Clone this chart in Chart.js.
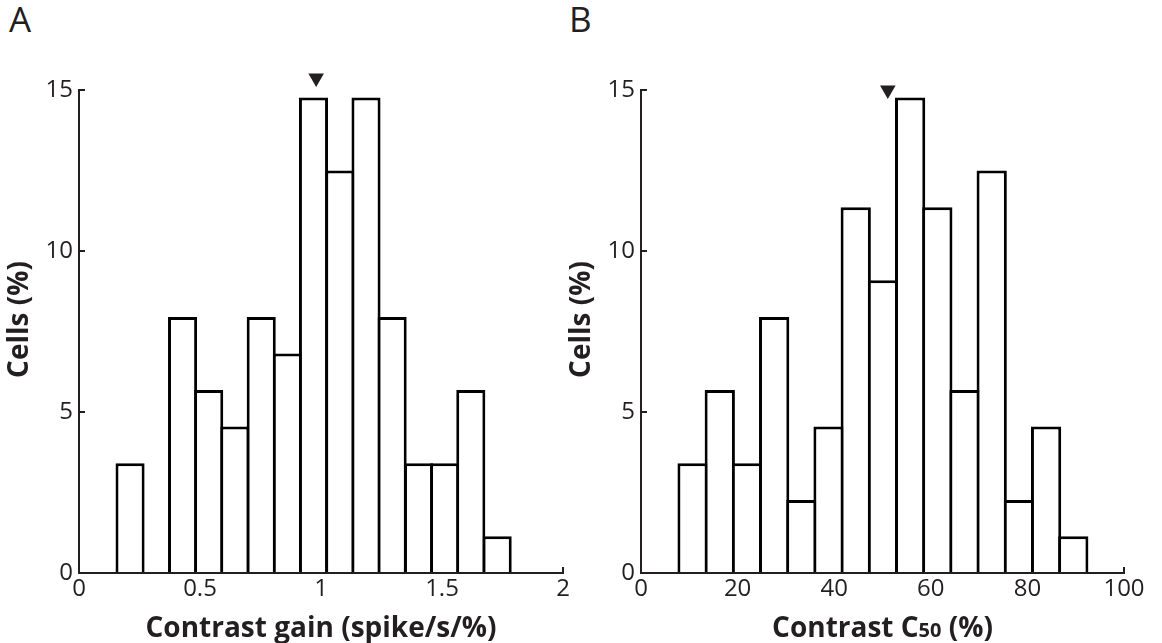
<!DOCTYPE html>
<html>
<head>
<meta charset="utf-8">
<script src="https://cdn.jsdelivr.net/npm/chart.js@4.4.1/dist/chart.umd.min.js"></script>
<style>
  html, body { margin: 0; padding: 0; background: #fff; }
  body { width: 1162px; height: 643px; position: relative; overflow: hidden; font-family: "Open Sans", sans-serif; color: #231f20; }
  canvas { position: absolute; top: 0; }
  #chartA { left: 0; }
  #chartB { left: 562px; }
  .letter { position: absolute; top: 1px; font-size: 35px; line-height: 35px; font-family: "Open Sans", sans-serif; color: #231f20; }
</style>
</head>
<body>
<div class="letter" style="left:9px">A</div>
<div class="letter" style="left:569px">B</div>
<canvas id="chartA" width="580" height="643"></canvas>
<canvas id="chartB" width="600" height="643"></canvas>
<script>
// Panel A: contrast gain distribution (bin centres in spike/s/%, percentage of cells)
const gainBins  = [0.211, 0.319, 0.428, 0.536, 0.644, 0.753, 0.861, 0.969, 1.078, 1.186, 1.294, 1.403, 1.511, 1.619, 1.728];
const gainCells = [3.41, 0, 7.95, 5.68, 4.55, 7.95, 6.82, 14.77, 12.50, 14.77, 7.95, 3.41, 3.41, 5.68, 1.14];
const gainMedian = 0.98;
const gainTicks = [0, 0.5, 1, 1.5, 2];

// Panel B: C50 distribution (bin centres in %, percentage of cells)
const c50Bins  = [10.68, 16.31, 21.94, 27.57, 33.20, 38.83, 44.46, 50.09, 55.72, 61.35, 66.98, 72.61, 78.24, 83.87, 89.50];
const c50Cells = [3.41, 5.68, 3.41, 7.95, 2.27, 4.55, 11.36, 9.09, 14.77, 11.36, 5.68, 12.50, 2.27, 4.55, 1.14];
const c50Median = 51.1;
const c50Ticks = [0, 20, 40, 60, 80, 100];

const cellTicks = [0, 5, 10, 15];

const INK = '#231f20';
const TICK_FONT = { family: '"Open Sans", sans-serif', size: 24 };
const TITLE_FAMILY = '"Open Sans", sans-serif';

// Draws the bold axis titles; the x title is a list of runs so a run can be set smaller.
const axisTitles = {
  id: 'axisTitles',
  afterDraw(chart, args, opts) {
    const { ctx, chartArea } = chart;
    ctx.save();
    ctx.fillStyle = INK;
    ctx.textAlign = 'center';
    ctx.textBaseline = 'alphabetic';
    ctx.font = `bold ${opts.size}px ${TITLE_FAMILY}`;
    ctx.translate(chartArea.left - opts.yGap, (chartArea.top + chartArea.bottom) / 2 - opts.yShift);
    ctx.rotate(-Math.PI / 2);
    ctx.fillText(opts.yText, 0, 0);
    ctx.restore();

    ctx.save();
    ctx.fillStyle = INK;
    ctx.textAlign = 'left';
    ctx.textBaseline = 'alphabetic';
    const runs = opts.xRuns.map(r => {
      const size = r.small ? opts.smallSize : opts.size;
      ctx.font = `bold ${size}px ${TITLE_FAMILY}`;
      return { text: r.text, font: ctx.font, w: ctx.measureText(r.text).width };
    });
    const total = runs.reduce((s, r) => s + r.w, 0);
    let x = (chartArea.left + chartArea.right) / 2 - total / 2;
    const y = chartArea.bottom + opts.xGap;
    runs.forEach(r => {
      ctx.font = r.font;
      ctx.fillText(r.text, x, y);
      x += r.w;
    });
    ctx.restore();
  }
};

function histogram(canvasId, bins, cells, median, markerY, xTicks, xMax, rightPad, xRuns) {
  return new Chart(document.getElementById(canvasId), {
    type: 'bar',
    data: {
      datasets: [
        {
          // median marker sitting just above the plot
          type: 'scatter',
          data: [{ x: median, y: markerY }],
          pointStyle: 'triangle',
          rotation: 180,
          radius: 9,
          backgroundColor: INK,
          borderColor: 'rgba(0,0,0,0)',
          borderWidth: 8,
          clip: false,
          order: 0
        },
        {
          type: 'bar',
          data: bins.map((b, i) => ({ x: b, y: cells[i] })),
          backgroundColor: '#ffffff',
          borderColor: '#000000',
          borderWidth: 3,
          borderSkipped: 'start',
          categoryPercentage: 1,
          barPercentage: 1.113,
          order: 1
        }
      ]
    },
    options: {
      responsive: false,
      animation: false,
      events: [],
      layout: { padding: { top: 90, right: rightPad, left: 0, bottom: 0 } },
      plugins: {
        legend: { display: false },
        tooltip: { enabled: false },
        axisTitles: { yText: 'Cells (%)', yGap: 51, yShift: 12, size: 28, smallSize: 20, xGap: 64, xRuns }
      },
      scales: {
        x: {
          type: 'linear',
          min: 0,
          max: xMax,
          offset: false,
          afterBuildTicks: s => { s.ticks = xTicks.map(v => ({ value: v })); },
          afterFit: s => { s.height = 70; },
          grid: { offset: false, drawOnChartArea: false, drawTicks: true, tickLength: -6, lineWidth: 2, color: INK },
          border: { display: true, width: 2, color: INK },
          ticks: { font: TICK_FONT, color: INK, padding: 8, maxRotation: 0, callback: v => String(v) }
        },
        y: {
          min: 0,
          max: 15,
          afterBuildTicks: s => { s.ticks = cellTicks.map(v => ({ value: v })); },
          afterFit: s => { s.width = 79; },
          grid: { drawOnChartArea: false, drawTicks: true, tickLength: -6, lineWidth: 2, color: INK },
          border: { display: true, width: 2, color: INK },
          ticks: { font: TICK_FONT, color: INK, padding: 12, callback: v => String(v) }
        }
      }
    },
    plugins: [axisTitles]
  });
}

histogram('chartA', gainBins, gainCells, gainMedian, 15.37, gainTicks, 2, 17,
  [{ text: 'Contrast gain (spike/s/%)' }]);
histogram('chartB', c50Bins, c50Cells, c50Median, 15.0, c50Ticks, 100, 38,
  [{ text: 'Contrast C' }, { text: '50', small: true }, { text: ' (%)' }]);
</script>
</body>
</html>
